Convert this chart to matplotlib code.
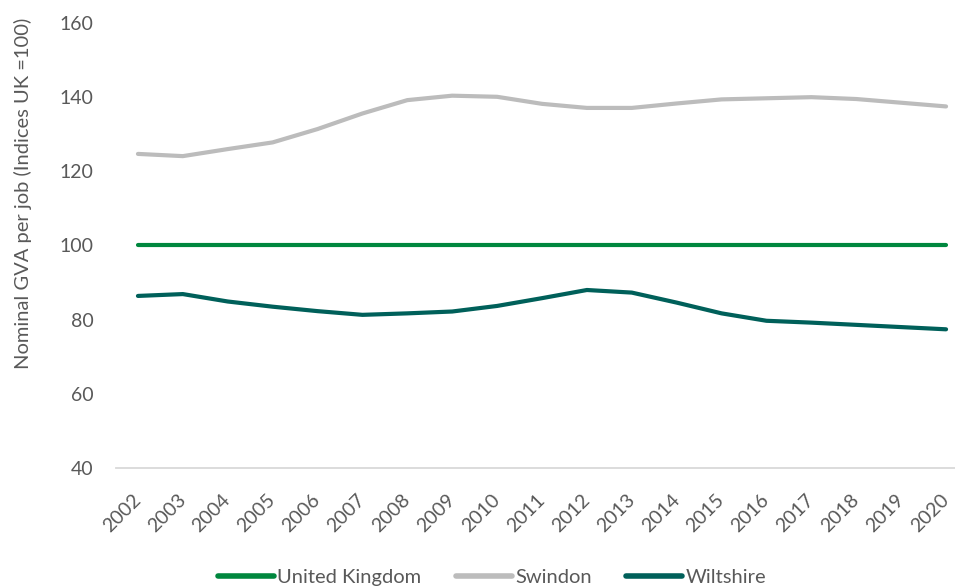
import matplotlib.pyplot as plt

plt.rcParams['font.family'] = ['Lato', 'DejaVu Sans']

# Data
years = [str(y) for y in range(2002, 2021)]
uk = [100] * 19
swindon = [124.7, 124.1, 126.0, 127.8, 131.4, 135.6, 139.2, 140.4, 140.1, 138.2,
           137.1, 137.1, 138.3, 139.4, 139.7, 140.0, 139.5, 138.5, 137.5]
wiltshire = [86.4, 86.9, 84.9, 83.5, 82.3, 81.3, 81.7, 82.2, 83.7, 85.8,
             88.0, 87.3, 84.6, 81.7, 79.7, 79.2, 78.6, 78.0, 77.4]

colors = {'United Kingdom': '#00873E', 'Swindon': '#BCBCBC', 'Wiltshire': '#00605A'}
text_col = '#595959'

fig = plt.figure(figsize=(9.55, 5.88), dpi=100)
W, H = 955, 588
ax = fig.add_axes([115.5 / W, (H - 468) / H, 853 / W, 445 / H])

x = list(range(len(years)))
for name, vals in [('United Kingdom', uk), ('Swindon', swindon), ('Wiltshire', wiltshire)]:
    ax.plot(x, vals, color=colors[name], lw=3, label=name, solid_capstyle='round')

ax.set_xlim(-0.5, len(years) - 0.5)
ax.set_ylim(40, 160)
ax.set_yticks(range(40, 161, 20))
ax.set_xticks(x)
ax.set_xticklabels(years, rotation=45, ha='right', va='center', rotation_mode='anchor')

for s in ['top', 'right', 'left']:
    ax.spines[s].set_visible(False)
ax.spines['bottom'].set_color('#D9D9D9')
ax.spines['bottom'].set_linewidth(1.3)
ax.tick_params(axis='both', length=0, labelsize=14, labelcolor=text_col)
ax.tick_params(axis='y', pad=16)
ax.tick_params(axis='x', pad=21)

fig.text(23 / W, 1 - 193 / H, 'Nominal GVA per job (Indices UK =100)', rotation=90,
         ha='center', va='center', fontsize=14.5, color=text_col)

leg = fig.legend(loc='center', bbox_to_anchor=(492 / W, 1 - 577 / H), ncol=3, frameon=False,
                 fontsize=14.5, handlelength=2.8, handletextpad=0.15, columnspacing=1.7)
for t in leg.get_texts():
    t.set_color(text_col)
for l in leg.get_lines():
    l.set_linewidth(4)

fig.savefig('out.png', dpi=100)
